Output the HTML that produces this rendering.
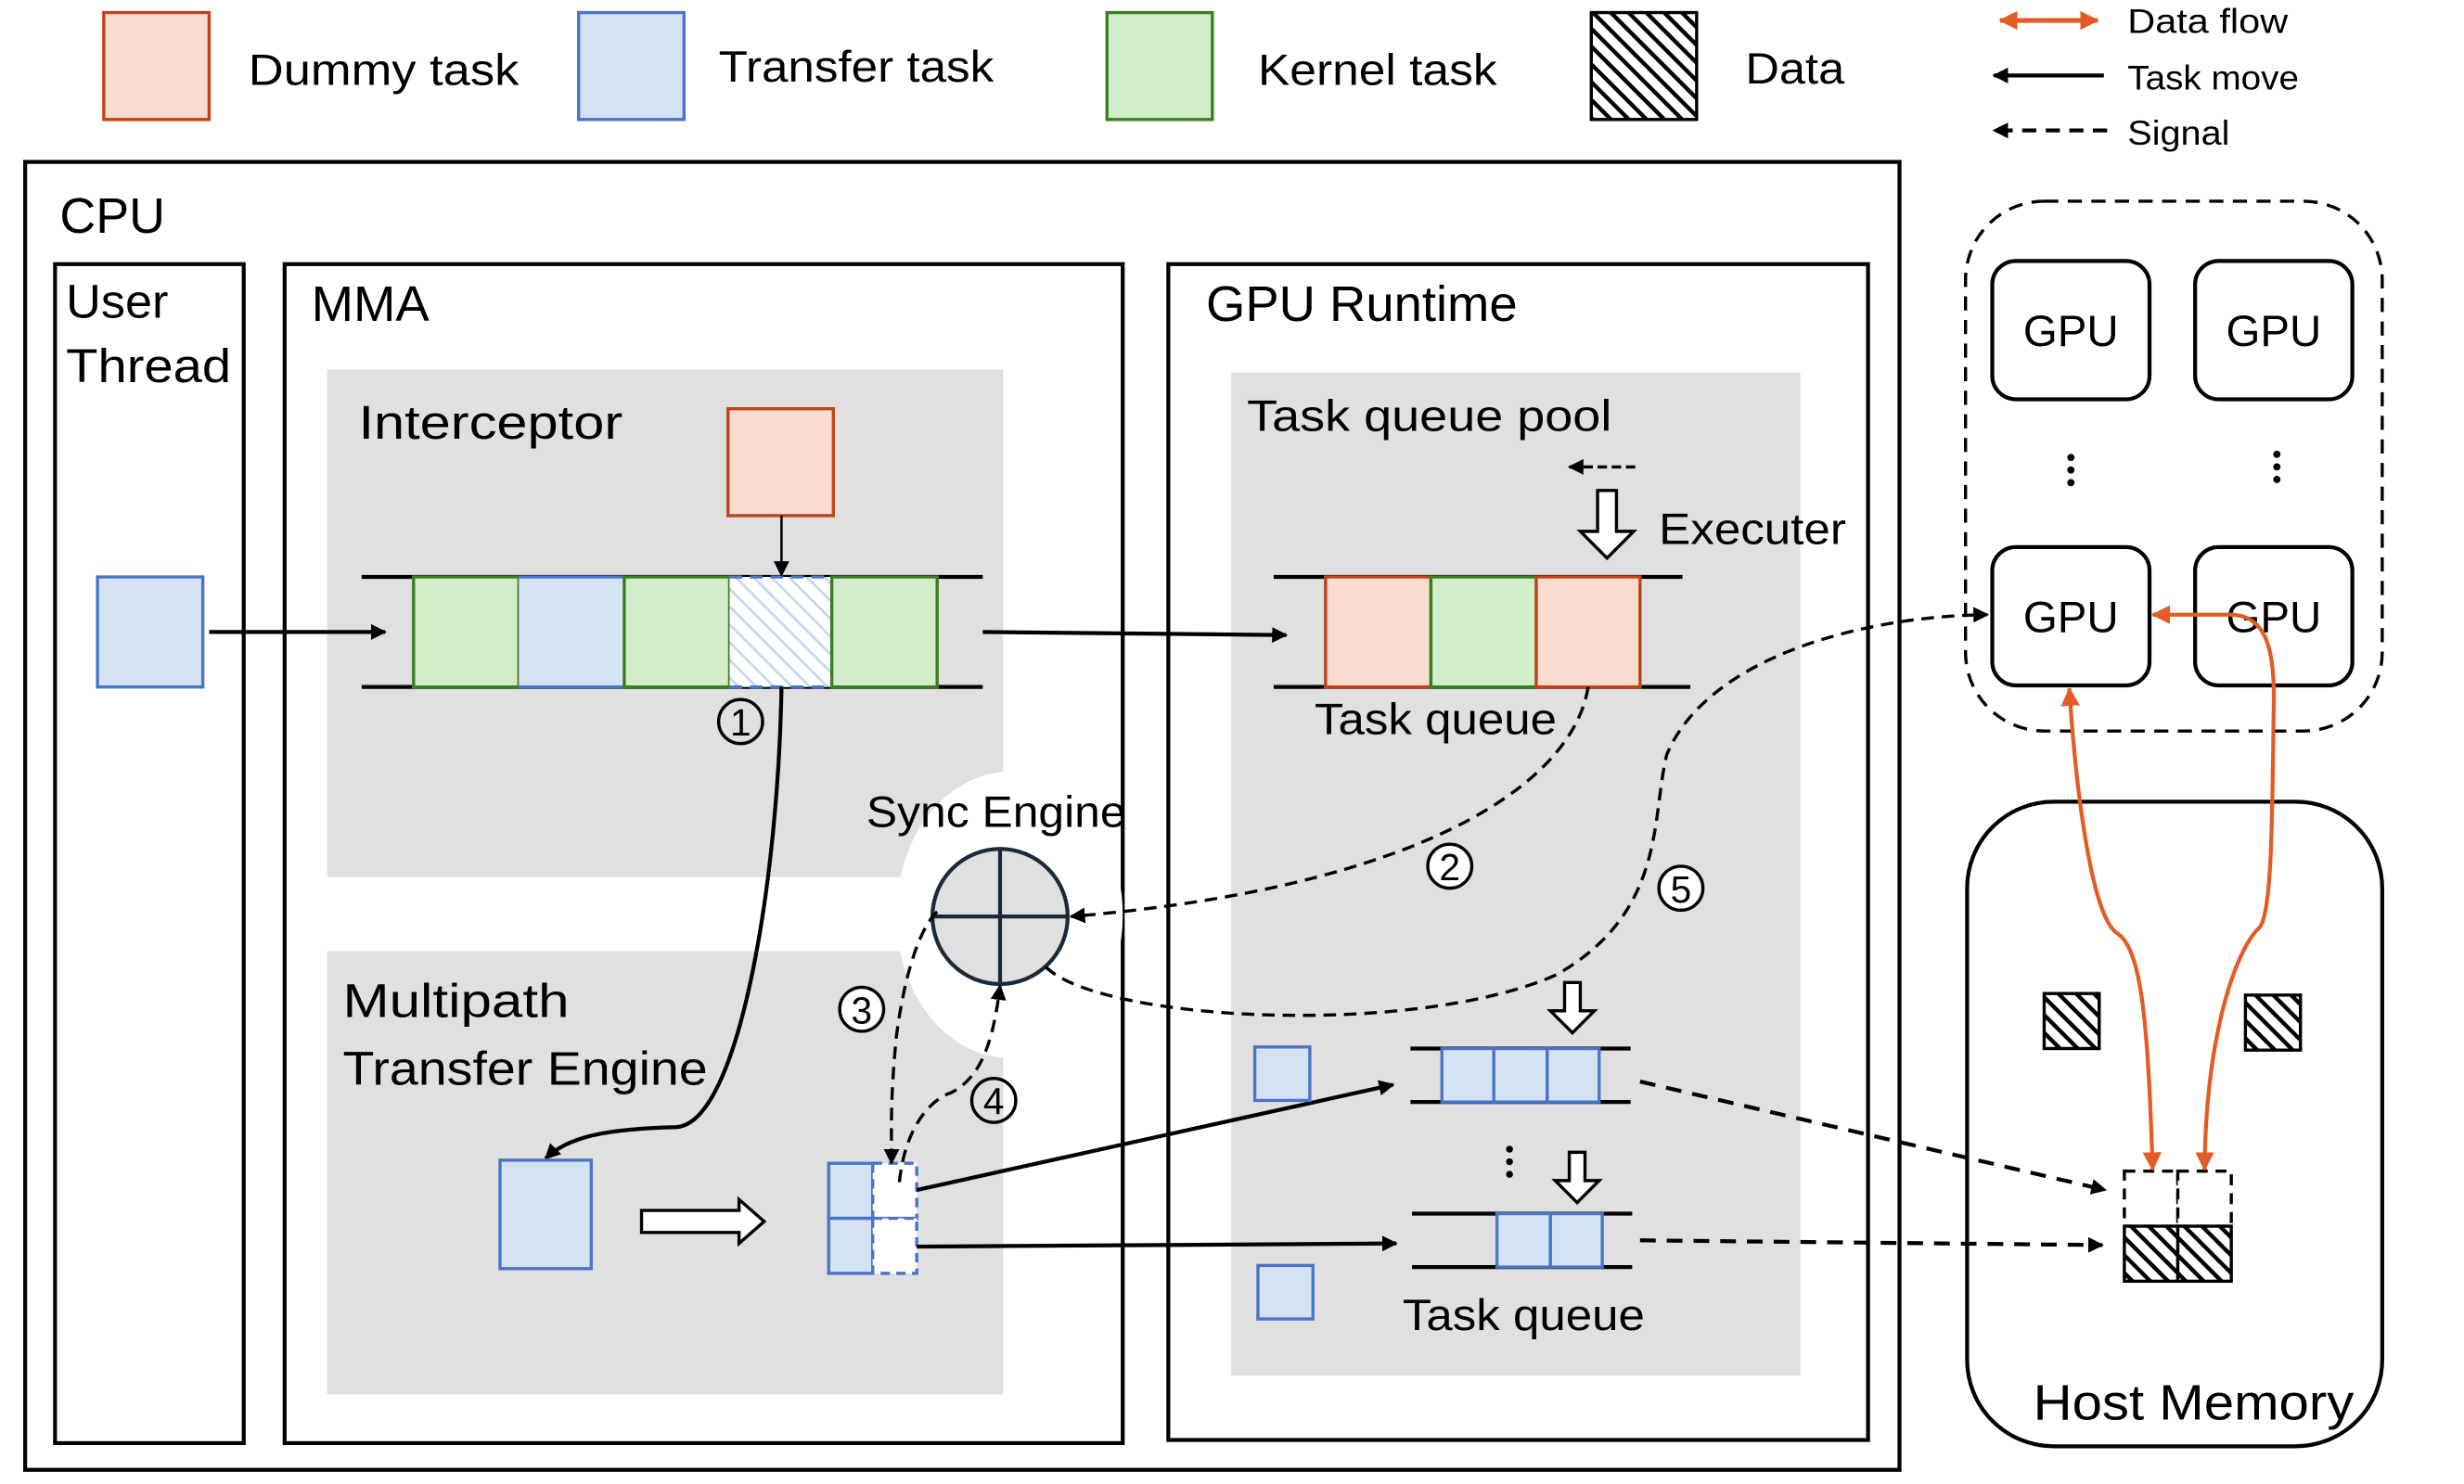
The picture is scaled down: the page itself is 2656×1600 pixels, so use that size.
<!DOCTYPE html>
<html><head><meta charset="utf-8"><style>
html,body{margin:0;padding:0;background:#fff;}
svg{display:block;}
text{font-family:"Liberation Sans",sans-serif;fill:#000;}
</style></head><body>
<svg width="2656" height="1600" viewBox="0 0 1567 944" preserveAspectRatio="none" xmlns="http://www.w3.org/2000/svg">
<defs>
<pattern id="hatch" patternUnits="userSpaceOnUse" width="8" height="8" patternTransform="rotate(45)">
<rect width="8" height="8" fill="#fff"/><rect x="0" y="0" width="8" height="2.6" fill="#000"/>
</pattern>
<pattern id="bhatch" patternUnits="userSpaceOnUse" width="8" height="8" patternTransform="rotate(45)">
<rect width="8" height="8" fill="#fff"/><rect x="0" y="0" width="8" height="1.6" fill="#c5d6ee"/>
</pattern>
<marker id="ab" markerWidth="10" markerHeight="10" refX="9" refY="5" orient="auto" markerUnits="userSpaceOnUse"><path d="M0,0 L10,5 L0,10 z" fill="#000"/></marker>
<marker id="ao" markerWidth="12" markerHeight="12" refX="11" refY="6" orient="auto" markerUnits="userSpaceOnUse"><path d="M0,0 L12,6 L0,12 z" fill="#E35B25"/></marker>
<marker id="aos" markerWidth="12" markerHeight="12" refX="1" refY="6" orient="auto" markerUnits="userSpaceOnUse"><path d="M12,0 L0,6 L12,12 z" fill="#E35B25"/></marker>
</defs>

<!-- Legend -->
<rect x="66" y="8" width="67" height="68" fill="#F8DCCF" stroke="#C0441A" stroke-width="2"/>
<text x="158" y="54" font-size="28" textLength="172" lengthAdjust="spacingAndGlyphs">Dummy task</text>
<rect x="368" y="8" width="67" height="68" fill="#D4E3F3" stroke="#4A74C8" stroke-width="2"/>
<text x="457" y="52" font-size="28" textLength="175" lengthAdjust="spacingAndGlyphs">Transfer task</text>
<rect x="704" y="8" width="67" height="68" fill="#D2EEC8" stroke="#3A7D22" stroke-width="2"/>
<text x="800" y="54" font-size="28" textLength="152" lengthAdjust="spacingAndGlyphs">Kernel task</text>
<rect x="1012" y="8" width="67" height="68" fill="url(#hatch)" stroke="#000" stroke-width="2"/>
<text x="1110" y="53" font-size="28" textLength="63" lengthAdjust="spacingAndGlyphs">Data</text>

<line x1="1272" y1="13" x2="1334" y2="13" stroke="#E35B25" stroke-width="3" marker-end="url(#ao)" marker-start="url(#aos)"/>
<text x="1353" y="21" font-size="22" textLength="102" lengthAdjust="spacingAndGlyphs">Data flow</text>
<line x1="1338" y1="48" x2="1268" y2="48" stroke="#000" stroke-width="2.5" marker-end="url(#ab)"/>
<text x="1353" y="57" font-size="22" textLength="109" lengthAdjust="spacingAndGlyphs">Task move</text>
<line x1="1340" y1="83" x2="1268" y2="83" stroke="#000" stroke-width="2.5" stroke-dasharray="9,6" marker-end="url(#ab)"/>
<text x="1353" y="92" font-size="22" textLength="65" lengthAdjust="spacingAndGlyphs">Signal</text>

<!-- CPU -->
<rect x="16" y="103" width="1192" height="832" fill="none" stroke="#000" stroke-width="2.5"/>
<text x="38" y="148" font-size="32" textLength="67" lengthAdjust="spacingAndGlyphs">CPU</text>
<rect x="35" y="168" width="120" height="750" fill="none" stroke="#000" stroke-width="2.5"/>
<text x="42" y="202" font-size="30" textLength="65" lengthAdjust="spacingAndGlyphs">User</text>
<text x="42" y="243" font-size="30" textLength="105" lengthAdjust="spacingAndGlyphs">Thread</text>
<rect x="181" y="168" width="533" height="750" fill="none" stroke="#000" stroke-width="2.5"/>
<text x="198" y="204" font-size="32" textLength="75" lengthAdjust="spacingAndGlyphs">MMA</text>
<rect x="743" y="168" width="445" height="748" fill="none" stroke="#000" stroke-width="2.5"/>
<text x="767" y="204" font-size="32" textLength="198" lengthAdjust="spacingAndGlyphs">GPU Runtime</text>

<!-- gray regions -->
<rect x="208" y="235" width="430" height="323" fill="#E0E0E0"/>
<rect x="208" y="605" width="430" height="282" fill="#E0E0E0"/>
<ellipse cx="642" cy="582" rx="72" ry="91" fill="#fff"/>
<rect x="783" y="237" width="362" height="638" fill="#E0E0E0"/>

<text x="228" y="279" font-size="30" textLength="168" lengthAdjust="spacingAndGlyphs">Interceptor</text>
<text x="218" y="647" font-size="30" textLength="144" lengthAdjust="spacingAndGlyphs">Multipath</text>
<text x="218" y="690" font-size="30" textLength="232" lengthAdjust="spacingAndGlyphs">Transfer Engine</text>

<!-- User thread box -->
<rect x="62" y="367" width="67" height="70" fill="#D4E3F3" stroke="#4A74C8" stroke-width="2"/>
<line x1="133" y1="402" x2="245" y2="402" stroke="#000" stroke-width="2.5" marker-end="url(#ab)"/>

<!-- Interceptor queue -->
<line x1="230" y1="367" x2="625" y2="367" stroke="#000" stroke-width="2.5"/>
<line x1="230" y1="437" x2="625" y2="437" stroke="#000" stroke-width="2.5"/>
<rect x="263" y="367" width="67" height="70" fill="#D2EEC8" stroke="#3A7D22" stroke-width="2"/>
<rect x="330" y="367" width="67" height="70" fill="#D4E3F3" stroke="none"/>
<line x1="330" y1="367" x2="397" y2="367" stroke="#4A74C8" stroke-width="2"/>
<line x1="330" y1="437" x2="397" y2="437" stroke="#4A74C8" stroke-width="2"/>
<rect x="397" y="367" width="67" height="70" fill="#D2EEC8" stroke="#3A7D22" stroke-width="2"/>
<rect x="464" y="367" width="65" height="70" fill="url(#bhatch)" stroke="none"/>
<line x1="464" y1="367" x2="529" y2="367" stroke="#4A74C8" stroke-width="2" stroke-dasharray="8,5"/>
<line x1="464" y1="437" x2="529" y2="437" stroke="#4A74C8" stroke-width="2" stroke-dasharray="8,5"/>
<rect x="529" y="367" width="67" height="70" fill="#D2EEC8" stroke="#3A7D22" stroke-width="2"/>
<rect x="463" y="260" width="67" height="68" fill="#F8DCCF" stroke="#C0441A" stroke-width="2"/>
<line x1="497" y1="328" x2="497" y2="366" stroke="#000" stroke-width="1.5" marker-end="url(#ab)"/>
<circle cx="471" cy="459" r="14" fill="none" stroke="#000" stroke-width="2"/>
<text x="471" y="468" font-size="24" text-anchor="middle">1</text>
<path d="M497 437 C 495 560, 470 715, 430 717 C 390 718, 362 722, 347 737" fill="none" stroke="#000" stroke-width="2.5" marker-end="url(#ab)"/>
<line x1="625" y1="402" x2="818" y2="404" stroke="#000" stroke-width="2.5" marker-end="url(#ab)"/>

<!-- Sync engine -->
<text x="551" y="526" font-size="28" textLength="165" lengthAdjust="spacingAndGlyphs">Sync Engine</text>
<circle cx="636" cy="583" r="43" fill="#E0E0E0" stroke="#1a2a3a" stroke-width="2.5"/>
<line x1="593" y1="583" x2="679" y2="583" stroke="#1a2a3a" stroke-width="2.5"/>
<line x1="636" y1="540" x2="636" y2="626" stroke="#1a2a3a" stroke-width="2.5"/>

<!-- Multipath -->
<rect x="318" y="738" width="58" height="69" fill="#D4E3F3" stroke="#4A74C8" stroke-width="2"/>
<path d="M408 770 L470 770 L470 763 L486 777 L470 791 L470 784 L408 784 z" fill="#fff" stroke="#000" stroke-width="2"/>
<rect x="527" y="740" width="28" height="35" fill="#D4E3F3" stroke="#4A74C8" stroke-width="2"/>
<rect x="527" y="775" width="28" height="35" fill="#D4E3F3" stroke="#4A74C8" stroke-width="2"/>
<rect x="555" y="740" width="28" height="35" fill="#fff" stroke="#4A74C8" stroke-width="2" stroke-dasharray="6,4"/>
<rect x="555" y="775" width="28" height="35" fill="#fff" stroke="#4A74C8" stroke-width="2" stroke-dasharray="6,4"/>
<line x1="583" y1="757" x2="886" y2="690" stroke="#000" stroke-width="2.5" marker-end="url(#ab)"/>
<line x1="583" y1="793" x2="888" y2="791" stroke="#000" stroke-width="2.5" marker-end="url(#ab)"/>

<!-- signals 3 & 4 -->
<path d="M596 580 C 585 590, 575 620, 570 660 C 566 700, 567 720, 567 740" fill="none" stroke="#000" stroke-width="2" stroke-dasharray="8,5" marker-end="url(#ab)"/>
<circle cx="548" cy="642" r="14" fill="#fff" stroke="#000" stroke-width="2"/>
<text x="548" y="651" font-size="24" text-anchor="middle">3</text>
<path d="M572 752 C 575 720, 590 700, 605 695 C 625 685, 632 660, 636 627" fill="none" stroke="#000" stroke-width="2" stroke-dasharray="8,5" marker-end="url(#ab)"/>
<circle cx="632" cy="700" r="14" fill="none" stroke="#000" stroke-width="2"/>
<text x="632" y="709" font-size="24" text-anchor="middle">4</text>

<!-- GPU runtime content -->
<text x="793" y="274" font-size="28" textLength="232" lengthAdjust="spacingAndGlyphs">Task queue pool</text>
<line x1="1040" y1="297" x2="998" y2="297" stroke="#000" stroke-width="2" stroke-dasharray="6,3" marker-end="url(#ab)"/>
<path d="M1016 312 L1028 312 L1028 338 L1039 338 L1022 355 L1005 338 L1016 338 z" fill="#fff" stroke="#000" stroke-width="2"/>
<text x="1055" y="346" font-size="28" textLength="119" lengthAdjust="spacingAndGlyphs">Executer</text>

<line x1="810" y1="367" x2="1070" y2="367" stroke="#000" stroke-width="2.5"/>
<line x1="810" y1="437" x2="1075" y2="437" stroke="#000" stroke-width="2.5"/>
<rect x="843" y="367" width="67" height="70" fill="#F8DCCF" stroke="#C0441A" stroke-width="2"/>
<rect x="910" y="367" width="67" height="70" fill="#D2EEC8" stroke="#3A7D22" stroke-width="2"/>
<rect x="977" y="367" width="66" height="70" fill="#F8DCCF" stroke="#C0441A" stroke-width="2"/>
<text x="836" y="467" font-size="28" textLength="154" lengthAdjust="spacingAndGlyphs">Task queue</text>

<path d="M1010 437 C 1000 500, 900 565, 681 583" fill="none" stroke="#000" stroke-width="2" stroke-dasharray="8,5" marker-end="url(#ab)"/>
<circle cx="922" cy="551" r="14" fill="#fff" stroke="#000" stroke-width="2"/>
<text x="922" y="560" font-size="24" text-anchor="middle">2</text>

<path d="M665 615 C 700 650, 900 660, 990 620 C 1060 580, 1050 520, 1060 480 C 1085 420, 1180 392, 1264 391" fill="none" stroke="#000" stroke-width="2" stroke-dasharray="8,5" marker-end="url(#ab)"/>
<circle cx="1069" cy="565" r="14" fill="#fff" stroke="#000" stroke-width="2"/>
<text x="1069" y="574" font-size="24" text-anchor="middle">5</text>

<rect x="798" y="666" width="35" height="34" fill="#D4E3F3" stroke="#4A74C8" stroke-width="2"/>
<rect x="800" y="805" width="35" height="34" fill="#D4E3F3" stroke="#4A74C8" stroke-width="2"/>

<path d="M995 625 L1005 625 L1005 643 L1014 643 L1000 657 L986 643 L995 643 z" fill="#fff" stroke="#000" stroke-width="2"/>
<line x1="897" y1="667" x2="1037" y2="667" stroke="#000" stroke-width="2.5"/>
<line x1="897" y1="701" x2="1037" y2="701" stroke="#000" stroke-width="2.5"/>
<rect x="917" y="667" width="33" height="34" fill="#D4E3F3" stroke="#4A74C8" stroke-width="2"/>
<rect x="950" y="667" width="34" height="34" fill="#D4E3F3" stroke="#4A74C8" stroke-width="2"/>
<rect x="984" y="667" width="33" height="34" fill="#D4E3F3" stroke="#4A74C8" stroke-width="2"/>

<circle cx="960" cy="731" r="2.2" fill="#000"/><circle cx="960" cy="739" r="2.2" fill="#000"/><circle cx="960" cy="747" r="2.2" fill="#000"/>
<path d="M998 733 L1008 733 L1008 751 L1017 751 L1003 765 L989 751 L998 751 z" fill="#fff" stroke="#000" stroke-width="2"/>
<line x1="898" y1="772" x2="1038" y2="772" stroke="#000" stroke-width="2.5"/>
<line x1="898" y1="806" x2="1038" y2="806" stroke="#000" stroke-width="2.5"/>
<rect x="952" y="772" width="34" height="34" fill="#D4E3F3" stroke="#4A74C8" stroke-width="2"/>
<rect x="986" y="772" width="33" height="34" fill="#D4E3F3" stroke="#4A74C8" stroke-width="2"/>
<text x="892" y="846" font-size="28" textLength="154" lengthAdjust="spacingAndGlyphs">Task queue</text>

<line x1="1043" y1="688" x2="1339" y2="757" stroke="#000" stroke-width="2.5" stroke-dasharray="10,7" marker-end="url(#ab)"/>
<line x1="1043" y1="789" x2="1337" y2="792" stroke="#000" stroke-width="2.5" stroke-dasharray="10,7" marker-end="url(#ab)"/>

<!-- GPU cluster -->
<rect x="1250" y="128" width="265" height="337" rx="50" fill="none" stroke="#000" stroke-width="2" stroke-dasharray="9,6"/>
<rect x="1267" y="166" width="100" height="88" rx="15" fill="#fff" stroke="#000" stroke-width="2.5"/>
<rect x="1396" y="166" width="100" height="88" rx="15" fill="#fff" stroke="#000" stroke-width="2.5"/>
<rect x="1267" y="348" width="100" height="88" rx="15" fill="#fff" stroke="#000" stroke-width="2.5"/>
<rect x="1396" y="348" width="100" height="88" rx="15" fill="#fff" stroke="#000" stroke-width="2.5"/>
<text x="1317" y="220" font-size="28" text-anchor="middle">GPU</text>
<text x="1446" y="220" font-size="28" text-anchor="middle">GPU</text>
<text x="1317" y="402" font-size="28" text-anchor="middle">GPU</text>
<text x="1446" y="402" font-size="28" text-anchor="middle">GPU</text>
<circle cx="1317" cy="291" r="2.3" fill="#000"/><circle cx="1317" cy="299" r="2.3" fill="#000"/><circle cx="1317" cy="307" r="2.3" fill="#000"/>
<circle cx="1448" cy="289" r="2.3" fill="#000"/><circle cx="1448" cy="297" r="2.3" fill="#000"/><circle cx="1448" cy="305" r="2.3" fill="#000"/>

<!-- Host memory -->
<rect x="1251" y="510" width="264" height="410" rx="55" fill="none" stroke="#000" stroke-width="2.5"/>
<text x="1293" y="903" font-size="32" textLength="204" lengthAdjust="spacingAndGlyphs">Host Memory</text>
<rect x="1300" y="632" width="35" height="35" fill="url(#hatch)" stroke="#000" stroke-width="2"/>
<rect x="1428" y="633" width="35" height="35" fill="url(#hatch)" stroke="#000" stroke-width="2"/>
<rect x="1351" y="745" width="34" height="35" fill="#fff" stroke="#000" stroke-width="2" stroke-dasharray="7,5"/>
<rect x="1385" y="745" width="34" height="35" fill="#fff" stroke="#000" stroke-width="2" stroke-dasharray="7,5"/>
<rect x="1351" y="780" width="34" height="35" fill="url(#hatch)" stroke="#000" stroke-width="2"/>
<rect x="1385" y="780" width="34" height="35" fill="url(#hatch)" stroke="#000" stroke-width="2"/>

<!-- Data flow -->
<path d="M1369 744 C 1366 650, 1362 605, 1347 594 C 1330 585, 1320 500, 1316 438" fill="none" stroke="#E35B25" stroke-width="2.5" marker-end="url(#ao)" marker-start="url(#aos)"/>
<path d="M1369 391 L1418 391 C 1440 391, 1447 410, 1446 450 C 1445 520, 1445 580, 1437 590 C 1425 600, 1403 650, 1402 744" fill="none" stroke="#E35B25" stroke-width="2.5" marker-end="url(#ao)" marker-start="url(#aos)"/>
</svg>
</body></html>
